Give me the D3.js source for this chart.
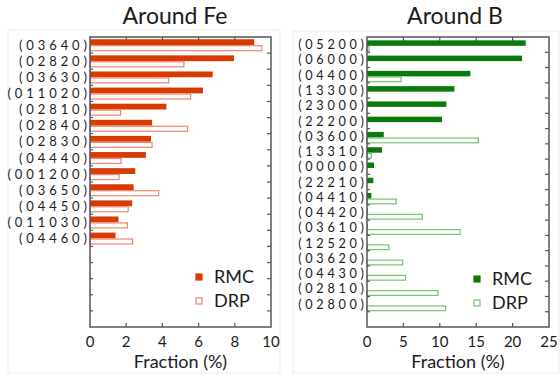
<!DOCTYPE html>
<html>
<head>
<meta charset="utf-8">
<script src="https://cdn.jsdelivr.net/npm/d3@7"></script>
<style>
  body { margin: 0; background: #fff; }
  text { font-family: Lato, "Open Sans", sans-serif; fill: #1a1a1a; }
</style>
</head>
<body>
<script>
let width = 560;
let height = 377;

// Around Fe
let feLabels = ["(03640)", "(02820)", "(03630)", "(011020)", "(02810)", "(02840)", "(02830)",
  "(04440)", "(001200)", "(03650)", "(04450)", "(011030)", "(04460)"];
let feRMC = [9.07, 7.96, 6.78, 6.24, 4.22, 3.43, 3.37, 3.09, 2.5, 2.41, 2.33, 1.57, 1.41];
let feDRP = [9.5, 5.19, 4.35, 5.56, 1.69, 5.39, 3.43, 1.72, 1.61, 3.8, 2.11, 2.07, 2.35];
let feTicks = [0, 2, 4, 6, 8, 10];

// Around B
let bLabels = ["(05200)", "(06000)", "(04400)", "(13300)", "(23000)", "(22200)", "(03600)",
  "(13310)", "(00000)", "(22210)", "(04410)", "(04420)", "(03610)", "(12520)", "(03620)",
  "(04430)", "(02810)", "(02800)"];
let bRMC = [21.8, 21.3, 14.2, 12.0, 10.9, 10.3, 2.3, 2.06, 0.96, 0.87, 0.6, 0.1, 0.1, 0, 0, 0, 0, 0];
let bDRP = [0.3, 0, 4.7, 0, 0, 0, 15.3, 0.6, 0, 0, 4.0, 7.6, 12.8, 3.0, 4.9, 5.3, 9.75, 10.8];
let bTicks = [0, 5, 10, 15, 20, 25];

let svg = d3.select("body").append("svg").attr("width", width).attr("height", height);

function panel(opt) {
  let g = svg.append("g");

  // faint panel box
  g.append("rect")
    .attr("x", opt.box[0]).attr("y", opt.box[1])
    .attr("width", opt.box[2]).attr("height", opt.box[3])
    .attr("fill", "none").attr("stroke", "#ececec").attr("stroke-width", 1);

  let x = d3.scaleLinear().domain([0, opt.max]).range([opt.left, opt.right]);
  let y = d3.scaleBand().domain(d3.range(opt.rows)).range([opt.top, opt.bottom]);
  let bw = y.bandwidth();

  let rows = opt.labels.map((l, i) => ({ label: l, rmc: opt.rmc[i], drp: opt.drp[i], i: i }));

  // RMC filled bars
  g.selectAll(".rmc").data(rows).enter().append("rect")
    .attr("x", x(0))
    .attr("y", d => y(d.i) + bw * opt.rmcPos[0])
    .attr("width", d => x(d.rmc) - x(0))
    .attr("height", bw * (opt.rmcPos[1] - opt.rmcPos[0]))
    .attr("fill", opt.dark);

  // DRP open bars
  g.selectAll(".drp").data(rows.filter(d => d.drp > 0)).enter().append("rect")
    .attr("x", x(0))
    .attr("y", d => y(d.i) + bw * opt.drpPos[0])
    .attr("width", d => x(d.drp) - x(0))
    .attr("height", bw * (opt.drpPos[1] - opt.drpPos[0]))
    .attr("fill", "none")
    .attr("stroke", opt.light)
    .attr("stroke-width", 1.2);

  // category labels
  g.selectAll(".lab").data(rows).enter().append("text")
    .attr("x", opt.left - 3 + opt.spacing)
    .attr("y", d => y(d.i) + bw * 0.5)
    .attr("dy", "0.36em")
    .attr("text-anchor", "end")
    .style("font-size", opt.labelSize + "px")
    .style("letter-spacing", opt.spacing + "px")
    .text(d => d.label);

  // frame
  g.append("rect")
    .attr("x", opt.left).attr("y", opt.top)
    .attr("width", opt.right - opt.left).attr("height", opt.bottom - opt.top)
    .attr("fill", "none").attr("stroke", "#555").attr("stroke-width", 1.5);

  // inward ticks on top and bottom
  let inner = opt.ticks.slice(1, -1);
  g.selectAll(".tt").data(inner).enter().append("line")
    .attr("x1", d => x(d)).attr("x2", d => x(d))
    .attr("y1", opt.top).attr("y2", opt.top + 4)
    .attr("stroke", "#555").attr("stroke-width", 1.2);
  g.selectAll(".bt").data(inner).enter().append("line")
    .attr("x1", d => x(d)).attr("x2", d => x(d))
    .attr("y1", opt.bottom).attr("y2", opt.bottom - 4)
    .attr("stroke", "#555").attr("stroke-width", 1.2);

  // inward ticks at band boundaries
  let bounds = d3.range(1, opt.rows);
  g.selectAll(".lt").data(bounds).enter().append("line")
    .attr("x1", opt.left).attr("x2", opt.left + 3)
    .attr("y1", d => y(d)).attr("y2", d => y(d))
    .attr("stroke", "#555").attr("stroke-width", 1.2);
  g.selectAll(".rt").data(bounds).enter().append("line")
    .attr("x1", opt.right).attr("x2", opt.right - 4)
    .attr("y1", d => y(d)).attr("y2", d => y(d))
    .attr("stroke", "#555").attr("stroke-width", 1.2);

  // x tick labels
  g.selectAll(".tl").data(opt.ticks).enter().append("text")
    .attr("x", d => x(d))
    .attr("y", opt.bottom + 20)
    .attr("text-anchor", "middle")
    .style("font-size", "15px")
    .text(d => d);

  g.append("text")
    .attr("x", (opt.left + opt.right) / 2)
    .attr("y", opt.bottom + 41)
    .attr("text-anchor", "middle")
    .style("font-size", "18px")
    .text("Fraction (%)");

  g.append("text")
    .attr("x", opt.titleX)
    .attr("y", 24)
    .attr("text-anchor", "middle")
    .style("font-size", "23px")
    .text(opt.title);

  // legend
  let leg = [
    { name: "RMC", filled: true },
    { name: "DRP", filled: false }
  ];
  let lg = g.selectAll(".leg").data(leg).enter().append("g")
    .attr("transform", (d, i) => "translate(" + opt.legend[0] + "," + (opt.legend[1] + i * 24) + ")");
  lg.append("rect")
    .attr("x", -3).attr("y", -3).attr("width", 6).attr("height", 6)
    .attr("fill", d => d.filled ? opt.dark : "none")
    .attr("stroke", d => d.filled ? opt.dark : opt.light)
    .attr("stroke-width", 1.2);
  lg.append("text")
    .attr("x", 15).attr("dy", "0.36em")
    .style("font-size", "18px")
    .text(d => d.name);
}

panel({
  box: [8, 30, 272, 343],
  left: 90, right: 271, top: 37, bottom: 327,
  rows: 18, max: 10, ticks: feTicks,
  labels: feLabels, rmc: feRMC, drp: feDRP,
  rmcPos: [0.14, 0.5], drpPos: [0.54, 0.85],
  dark: "#d83b01", light: "#f2836b",
  labelSize: 13, spacing: 3.9,
  title: "Around Fe", titleX: 175,
  legend: [199, 277]
});

panel({
  box: [293, 31, 266, 342],
  left: 367, right: 549, top: 37, bottom: 327,
  rows: 19, max: 25, ticks: bTicks,
  labels: bLabels, rmc: bRMC, drp: bDRP,
  rmcPos: [0.22, 0.58], drpPos: [0.62, 0.93],
  dark: "#0a7a0a", light: "#74c074",
  labelSize: 12.7, spacing: 3.7,
  title: "Around B", titleX: 455,
  legend: [477, 279]
});
</script>
</body>
</html>
